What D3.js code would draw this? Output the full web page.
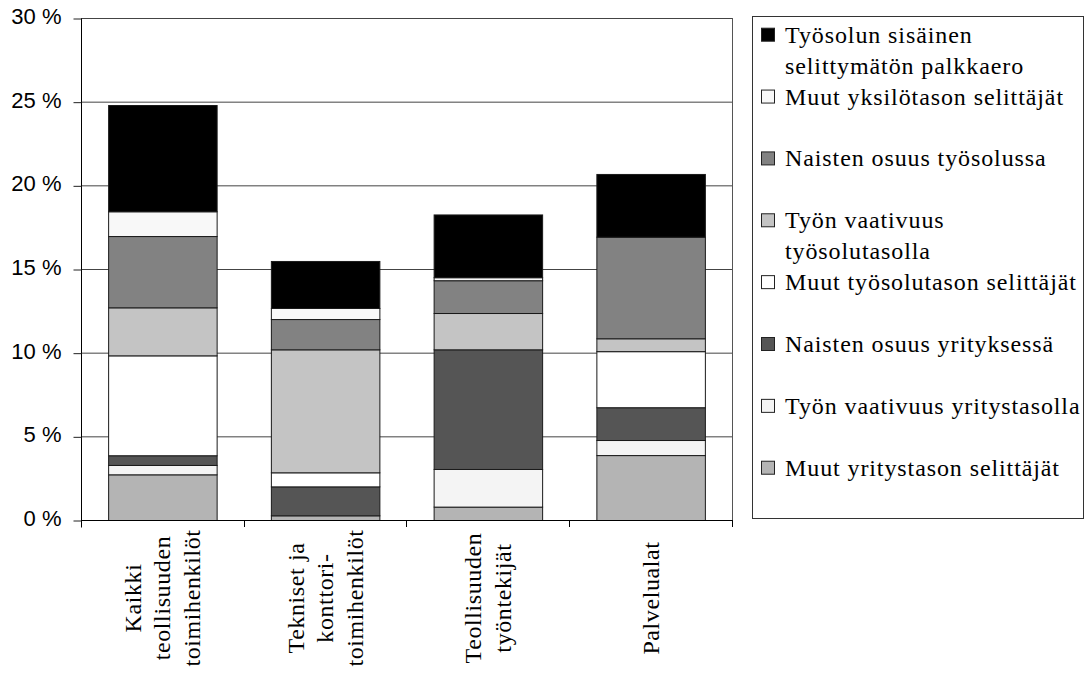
<!DOCTYPE html>
<html>
<head>
<meta charset="utf-8">
<script src="https://cdn.jsdelivr.net/npm/d3@7"></script>
<style>
  html, body { margin: 0; padding: 0; background: #fff; }
  svg { display: block; }
  .serif { font-family: "Liberation Serif", "Times New Roman", Times, serif; font-size: 24px; fill: #000; }
  .sans { font-family: "Liberation Sans", Arial, Helvetica, sans-serif; font-size: 22px; fill: #000; }
</style>
</head>
<body>
<svg id="chart" width="1091" height="674"></svg>
<script>
// ---- Data ----
const categoryLines = [
  ["Kaikki", "teollisuuden", "toimihenkilöt"],
  ["Tekniset ja", "konttori-", "toimihenkilöt"],
  ["Teollisuuden", "työntekijät"],
  ["Palvelualat"]
];
const seriesNames = [
  "Muut yritystason selittäjät",
  "Työn vaativuus yritystasolla",
  "Naisten osuus yrityksessä",
  "Muut työsolutason selittäjät",
  "Työn vaativuus työsolutasolla",
  "Naisten osuus työsolussa",
  "Muut yksilötason selittäjät",
  "Työsolun sisäinen selittymätön palkkaero"
];
const legendLabels = [
  ["Muut yritystason selittäjät"],
  ["Työn vaativuus yritystasolla"],
  ["Naisten osuus yrityksessä"],
  ["Muut työsolutason selittäjät"],
  ["Työn vaativuus", "työsolutasolla"],
  ["Naisten osuus työsolussa"],
  ["Muut yksilötason selittäjät"],
  ["Työsolun sisäinen", "selittymätön palkkaero"]
];
const muutYritystason      = [2.73, 0.28, 0.80, 3.88];
const tyonVaativuusYritys  = [0.56, 0.00, 2.25, 0.90];
const naistenOsuusYritys   = [0.58, 1.73, 7.15, 1.96];
const muutTyosolutason     = [5.97, 0.84, 0.00, 3.35];
const tyonVaativuusTyosolu = [2.87, 7.35, 2.17, 0.77];
const naistenOsuusTyosolu  = [4.26, 1.81, 1.96, 6.07];
const muutYksilotason      = [1.48, 0.66, 0.18, 0.00];
const tyosolunSisainen     = [6.35, 2.81, 3.75, 3.75];
const yTicks = [0, 5, 10, 15, 20, 25, 30];
const colors = ["#b4b4b4", "#f4f4f4", "#555555", "#ffffff", "#c4c4c4", "#828282", "#f8f8f8", "#000000"];

const seriesValues = [muutYritystason, tyonVaativuusYritys, naistenOsuusYritys, muutTyosolutason,
  tyonVaativuusTyosolu, naistenOsuusTyosolu, muutYksilotason, tyosolunSisainen];

// ---- Build table ----
const table = categoryLines.map((c, i) => {
  const row = { idx: i };
  seriesNames.forEach((s, k) => row[s] = seriesValues[k][i]);
  return row;
});
const stacked = d3.stack().keys(seriesNames)(table);

// ---- Layout ----
const svg = d3.select("#chart");
const L = 81, R = 732, T = 18, B = 520;

const x = d3.scaleBand().domain(d3.range(categoryLines.length)).range([L, R])
  .paddingInner(0.3333).paddingOuter(0.16667);
const y = d3.scaleLinear().domain([0, 30]).range([B, T]);

// gridlines
svg.append("g").selectAll("line").data(yTicks.filter(t => t > 0))
  .join("line")
  .attr("x1", L).attr("x2", R)
  .attr("y1", d => y(d) + 0.5).attr("y2", d => y(d) + 0.5)
  .attr("stroke", "#444").attr("stroke-width", 1);

// right border
svg.append("line").attr("x1", R + 0.5).attr("x2", R + 0.5).attr("y1", T).attr("y2", B)
  .attr("stroke", "#555").attr("stroke-width", 1);

// bars
svg.append("g").selectAll("g").data(stacked).join("g")
  .attr("fill", (d, i) => colors[i])
  .selectAll("rect").data(d => d).join("rect")
  .attr("x", d => x(d.data.idx) + 0.5)
  .attr("width", x.bandwidth())
  .attr("y", d => y(d[1]) + 0.5)
  .attr("height", d => Math.max(0, y(d[0]) - y(d[1])))
  .attr("stroke", "#1a1a1a").attr("stroke-width", 1);

// y axis
const yAxis = d3.axisLeft(y).tickValues(yTicks).tickSize(8).tickPadding(12)
  .tickFormat(d => d + " %");
const yg = svg.append("g").attr("transform", `translate(${L + 0.5},0.5)`).call(yAxis);
yg.attr("font-family", null).attr("font-size", null);
yg.select(".domain").attr("stroke", "#000").attr("d", `M0,${T}V${B + 7}`);
yg.selectAll(".tick line").attr("stroke", "#222");
yg.selectAll(".tick text").attr("class", "sans").attr("fill", null).attr("dy", "0.22em");

// x axis line and category boundary ticks
svg.append("line").attr("x1", L).attr("x2", R + 1).attr("y1", B + 0.5).attr("y2", B + 0.5)
  .attr("stroke", "#000").attr("stroke-width", 1.2);
const step = x.step();
const bounds = d3.range(categoryLines.length + 1).map(i => x(0) - x.paddingOuter() * step + i * step);
svg.append("g").selectAll("line").data(bounds.slice(1)).join("line")
  .attr("x1", d => Math.round(d) + 0.5).attr("x2", d => Math.round(d) + 0.5)
  .attr("y1", B).attr("y2", B + 7).attr("stroke", "#000");

// category labels (rotated)
const lineGap = 29.5;
const labelCenterY = 598;
categoryLines.forEach((lines, i) => {
  const cx = x(i) + x.bandwidth() / 2;
  const n = lines.length;
  lines.forEach((t, j) => {
    const lx = cx + (j - (n - 1) / 2) * lineGap;
    svg.append("text")
      .attr("class", "serif")
      .attr("transform", `translate(${lx},${labelCenterY}) rotate(-90)`)
      .attr("text-anchor", "middle")
      .attr("dominant-baseline", "central")
      .style("letter-spacing", "0.6px")
      .text(t);
  });
});

// legend
const lg = svg.append("g");
lg.append("rect").attr("x", 752.5).attr("y", 16.5).attr("width", 331).attr("height", 502)
  .attr("fill", "#fff").attr("stroke", "#333").attr("stroke-width", 1);
const legendOrder = d3.range(seriesNames.length).reverse();
legendOrder.forEach((k, i) => {
  const base = 42.7 + 61.86 * i;
  lg.append("rect").attr("x", 761.5).attr("y", base - 14.5).attr("width", 13).attr("height", 13)
    .attr("fill", colors[k]).attr("stroke", "#222").attr("stroke-width", 1);
  legendLabels[k].forEach((t, j) => {
    lg.append("text").attr("class", "serif")
      .attr("x", 785).attr("y", base + j * 31)
      .style("letter-spacing", "0.9px")
      .text(t);
  });
});
</script>
</body>
</html>
